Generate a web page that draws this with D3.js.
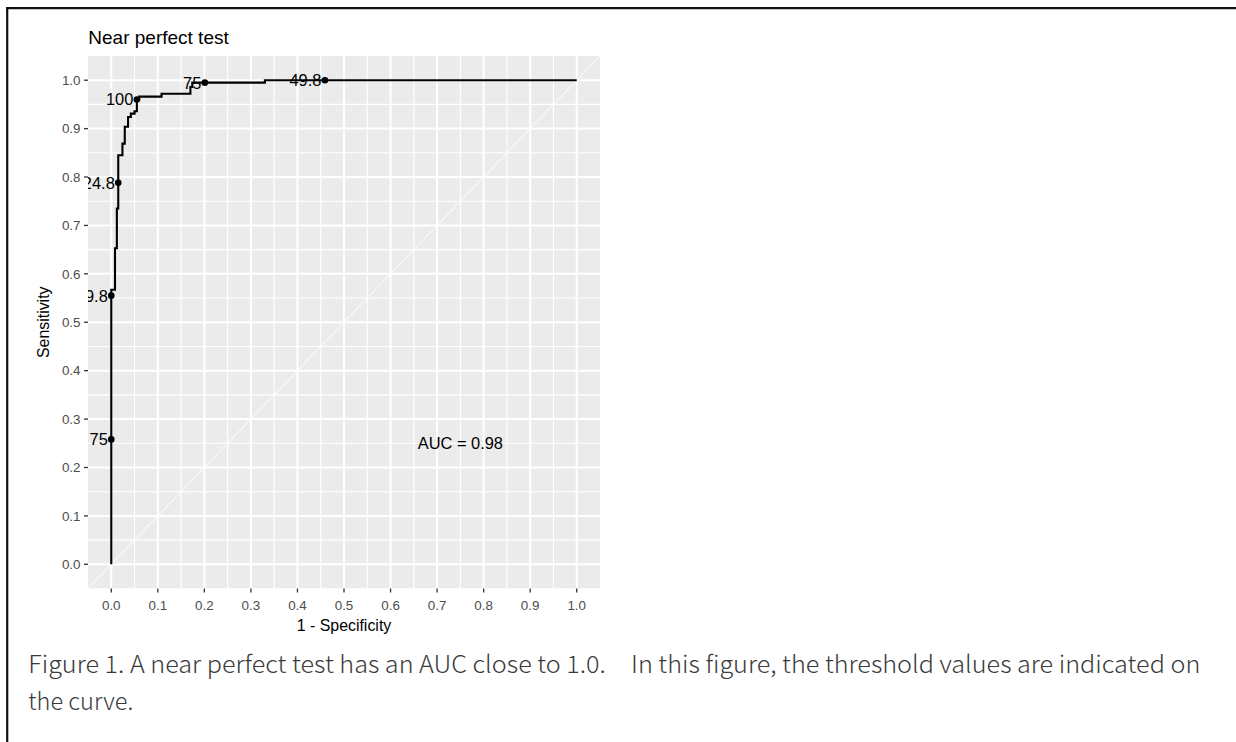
<!DOCTYPE html>
<html><head><meta charset="utf-8">
<script src="https://cdn.jsdelivr.net/npm/d3@7"></script>
<style>body{margin:0;background:#fff;} svg{display:block;}</style>
</head><body>
<script>
// ROC curve vertices (top of each riser), drawn with a step-after curve
const rocFpr = [0, 0, 0.008, 0.012, 0.015, 0.024, 0.029, 0.036, 0.042, 0.050, 0.055, 0.060, 0.108, 0.170, 0.174, 0.330, 1.0];
const rocTpr = [0, 0.567, 0.653, 0.735, 0.845, 0.869, 0.904, 0.924, 0.931, 0.936, 0.960, 0.966, 0.972, 0.986, 0.995, 1.0, 1.0];
// labelled cutoff points
const cutFpr = [0, 0, 0.015, 0.055, 0.201, 0.459];
const cutTpr = [0.258, 0.555, 0.788, 0.960, 0.995, 1.0];
const cutLabels = ["75", "49.8", "24.8", "100", "75", "49.8"];
const majorTicks = [0, 0.1, 0.2, 0.3, 0.4, 0.5, 0.6, 0.7, 0.8, 0.9, 1.0];
const tickLabels = ["0.0", "0.1", "0.2", "0.3", "0.4", "0.5", "0.6", "0.7", "0.8", "0.9", "1.0"];
const minorTicks = [0.05, 0.15, 0.25, 0.35, 0.45, 0.55, 0.65, 0.75, 0.85, 0.95];
const aucText = "AUC = 0.98";
const aucPos = [0.75, 0.25];
const titleText = "Near perfect test";
const xTitle = "1 - Specificity";
const yTitle = "Sensitivity";
const caption1 = "Figure 1. A near perfect test has an AUC close to 1.0.\u3000In this figure, the threshold values are indicated on";
const caption2 = "the curve.";

const W = 1236, H = 742;
const P = {l: 88, r: 600, t: 56, b: 588.5};
const font = "'Liberation Sans', Arial, Helvetica, sans-serif";

const svg = d3.select("body").append("svg").attr("width", W).attr("height", H)
  .style("font-family", font);
svg.append("rect").attr("width", W).attr("height", H).attr("fill", "#fff");

// border (top and left only, as cropped)
svg.append("line").attr("x1", 6).attr("x2", W).attr("y1", 8.2).attr("y2", 8.2).attr("stroke", "#111").attr("stroke-width", 2.2);
svg.append("line").attr("x1", 7.2).attr("x2", 7.2).attr("y1", 7).attr("y2", H).attr("stroke", "#111").attr("stroke-width", 2.2);

const x = d3.scaleLinear().domain([-0.05, 1.05]).range([P.l, P.r]);
const y = d3.scaleLinear().domain([-0.05, 1.05]).range([P.b, P.t]);

svg.append("defs").append("clipPath").attr("id", "panel")
  .append("rect").attr("x", P.l).attr("y", P.t).attr("width", P.r - P.l).attr("height", P.b - P.t);

const g = svg.append("g").attr("clip-path", "url(#panel)");
g.append("rect").attr("x", P.l).attr("y", P.t).attr("width", P.r - P.l).attr("height", P.b - P.t).attr("fill", "#EBEBEB");

// grid
g.selectAll(".vminor").data(minorTicks).join("line")
  .attr("x1", d => x(d)).attr("x2", d => x(d)).attr("y1", P.t).attr("y2", P.b)
  .attr("stroke", "#fff").attr("stroke-width", 1.1);
g.selectAll(".hminor").data(minorTicks).join("line")
  .attr("y1", d => y(d)).attr("y2", d => y(d)).attr("x1", P.l).attr("x2", P.r)
  .attr("stroke", "#fff").attr("stroke-width", 1.1);
g.selectAll(".vmajor").data(majorTicks).join("line")
  .attr("x1", d => x(d)).attr("x2", d => x(d)).attr("y1", P.t).attr("y2", P.b)
  .attr("stroke", "#fff").attr("stroke-width", 2);
g.selectAll(".hmajor").data(majorTicks).join("line")
  .attr("y1", d => y(d)).attr("y2", d => y(d)).attr("x1", P.l).attr("x2", P.r)
  .attr("stroke", "#fff").attr("stroke-width", 2);

// diagonal reference line
g.append("line").attr("x1", x(-0.05)).attr("y1", y(-0.05)).attr("x2", x(1.05)).attr("y2", y(1.05))
  .attr("stroke", "#fff").attr("stroke-width", 1);

// ROC curve
const roc = rocFpr.map((f, i) => [f, rocTpr[i]]);
g.append("path").datum(roc)
  .attr("d", d3.line().x(d => x(d[0])).y(d => y(d[1])).curve(d3.curveStepAfter))
  .attr("fill", "none").attr("stroke", "#000").attr("stroke-width", 2.1).attr("stroke-linejoin", "miter");

const cuts = cutFpr.map((f, i) => ({f, t: cutTpr[i], l: cutLabels[i]}));
g.selectAll(".pt").data(cuts).join("circle")
  .attr("cx", d => x(d.f)).attr("cy", d => y(d.t)).attr("r", 3.3).attr("fill", "#000");
g.selectAll(".lab").data(cuts).join("text")
  .attr("x", d => x(d.f) - 3.5).attr("y", d => y(d.t)).attr("dy", "0.36em")
  .attr("text-anchor", "end").style("font-size", "16.4px").attr("fill", "#000").text(d => d.l);

g.append("text").attr("x", x(aucPos[0])).attr("y", y(aucPos[1])).attr("dy", "0.36em")
  .attr("text-anchor", "middle").style("font-size", "16.4px").attr("fill", "#000").text(aucText);

// axes (ticks + labels)
const tickG = svg.append("g");
tickG.selectAll(".xt").data(majorTicks).join("line")
  .attr("x1", d => x(d)).attr("x2", d => x(d)).attr("y1", P.b).attr("y2", P.b + 4)
  .attr("stroke", "#333").attr("stroke-width", 1.3);
tickG.selectAll(".yt").data(majorTicks).join("line")
  .attr("y1", d => y(d)).attr("y2", d => y(d)).attr("x1", P.l - 4).attr("x2", P.l)
  .attr("stroke", "#333").attr("stroke-width", 1.3);
tickG.selectAll(".xl").data(majorTicks).join("text")
  .attr("x", d => x(d)).attr("y", P.b + 21.5).attr("text-anchor", "middle")
  .attr("font-size", 13.4).attr("fill", "#4D4D4D").text((d, i) => tickLabels[i]);
tickG.selectAll(".yl").data(majorTicks).join("text")
  .attr("x", P.l - 7.5).attr("y", d => y(d)).attr("dy", "0.36em").attr("text-anchor", "end")
  .attr("font-size", 13.4).attr("fill", "#4D4D4D").text((d, i) => tickLabels[i]);

svg.append("text").attr("x", (P.l + P.r) / 2).attr("y", 631).attr("text-anchor", "middle")
  .style("font-size", "15.9px").attr("fill", "#000").text(xTitle);
svg.append("text").attr("transform", `translate(48.5,${(P.t + P.b) / 2}) rotate(-90)`).attr("text-anchor", "middle")
  .style("font-size", "15.9px").attr("fill", "#000").text(yTitle);
svg.append("text").attr("x", 88.3).attr("y", 43.5).style("font-size", "19px").attr("fill", "#000").text(titleText);

// caption
const capFont = "'Noto Sans CJK SC', 'Noto Sans', sans-serif";
svg.append("text").attr("x", 28.3).attr("y", 673).style("font-family", capFont).attr("font-weight", 300)
  .style("font-size", "24px").attr("fill", "#3a3a3a")
  .attr("textLength", 1172).attr("lengthAdjust", "spacingAndGlyphs").text(caption1);
svg.append("text").attr("x", 28.3).attr("y", 710).style("font-family", capFont).attr("font-weight", 300)
  .style("font-size", "24px").attr("fill", "#3a3a3a")
  .attr("textLength", 105).attr("lengthAdjust", "spacingAndGlyphs").text(caption2);
</script>
</body></html>
